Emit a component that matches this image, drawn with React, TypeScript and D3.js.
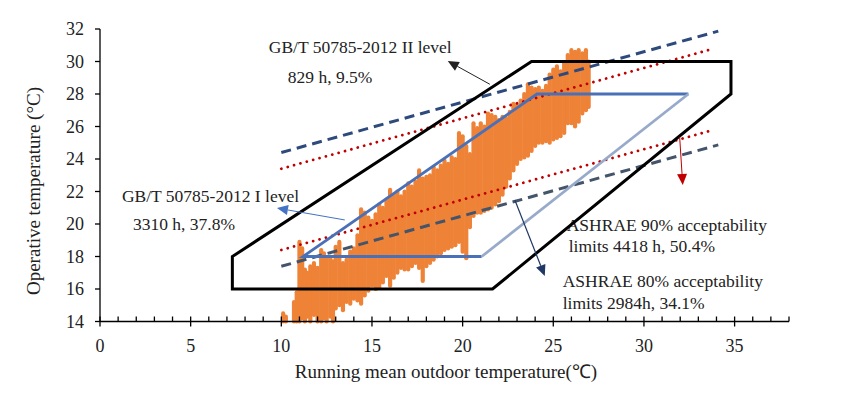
import React from "react";
import * as d3 from "d3";

// ---- data ----
// orange hourly points, summarised as vertical streaks: [running mean outdoor T, min operative T, max operative T]
const streakX = [10.1,10.25,10.7,10.85,11.0,11.15,11.3,11.45,11.6,11.8,12.0,12.2,12.35,12.5,12.7,12.85,13.0,13.2,13.4,13.6,13.8,14.0,14.2,14.4,14.6,14.8,15.0,15.2,15.4,15.6,15.8,16.0,16.2,16.4,16.6,16.8,17.0,17.2,17.4,17.6,17.8,18.0,18.2,18.4,18.6,18.8,19.0,19.2,19.4,19.6,19.8,20.0,20.2,20.4,20.6,20.8,21.0,21.2,21.4,21.6,21.8,22.0,22.2,22.4,22.6,22.8,23.0,23.2,23.4,23.6,23.8,24.0,24.2,24.4,24.6,24.8,25.0,25.2,25.4,25.6,25.8,26.0,26.2,26.4,26.6,26.8,26.95];
const streakLo = [14.0,14.0,14.0,14.0,14.0,14.2,14.0,14.3,14.0,14.4,14.0,14.0,14.2,14.0,14.3,14.0,14.8,15.0,14.7,15.2,15.1,15.4,15.3,15.1,15.6,15.9,16.2,16.0,16.1,16.4,16.8,16.2,16.7,17.0,17.3,17.2,17.2,17.4,17.6,17.3,16.5,17.4,17.6,17.8,18.0,18.2,18.4,18.5,18.6,18.7,18.9,18.3,17.9,19.8,20.5,20.7,20.7,20.8,20.9,21.0,21.2,21.4,21.8,22.3,22.8,23.3,23.7,24.0,24.1,24.2,24.5,24.8,25.0,25.0,25.1,25.0,25.2,25.3,25.4,25.6,26.2,26.2,26.0,26.3,26.8,27.0,27.2];
const streakHi = [14.5,14.3,15.2,15.8,18.9,18.5,17.2,17.0,17.4,17.6,17.3,18.4,18.2,17.9,18.0,17.7,18.6,18.9,17.6,17.8,18.3,18.5,19.3,20.9,20.7,20.4,20.2,20.6,21.2,21.0,21.5,22.1,21.8,22.0,21.7,22.0,22.5,22.3,22.6,23.3,22.8,22.9,23.0,23.5,23.3,23.6,23.9,23.7,24.1,24.0,25.6,25.4,24.8,24.3,26.2,25.9,26.2,26.0,26.8,26.7,26.6,26.4,26.6,26.5,26.9,27.4,27.3,27.6,28.0,28.6,28.4,28.3,28.4,28.2,28.5,29.2,29.5,29.7,29.4,29.9,30.4,30.7,30.6,30.7,30.5,30.7,30.0];

// GB/T 50785-2012 level II zone (black polygon)
const levelIIZone: [number, number][] = [[7.3,16],[7.3,18],[23.8,30],[34.8,30],[34.8,28],[21.65,16]];
// GB/T 50785-2012 level I zone (blue polygon)
const levelIZone: [number, number][] = [[11.2,18],[24.1,28],[32.45,28],[21.05,18]];

// ASHRAE adaptive limits: Tc = 0.31*Trm + 17.8 +- offset
const ashraeSlope = 0.31;
const ashraeIntercept = 17.8;
const ashrae80Offset = 3.5;
const ashrae90Offset = 2.5;
const ashrae80Range = [10, 34.1];
const ashrae90Range = [10, 33.8];

const xTicks = [0,5,10,15,20,25,30,35];
const xMinorTicks = d3.range(0, 39, 1);
const yTicks = [14,16,18,20,22,24,26,28,30,32];

const labels = [
  { text: "GB/T 50785-2012  II level", x: 9.31, y: 30.5 },
  { text: "829 h, 9.5%", x: 10.36, y: 28.68 },
  { text: "GB/T 50785-2012 I level", x: 1.21, y: 21.35 },
  { text: "3310 h, 37.8%", x: 1.82, y: 19.63 },
  { text: "ASHRAE 90% acceptability", x: 25.74, y: 19.57 },
  { text: "limits 4418 h, 50.4%", x: 25.85, y: 18.28 },
  { text: "ASHRAE 80% acceptability", x: 25.52, y: 16.12 },
  { text: "limits  2984h, 34.1%", x: 25.52, y: 14.77 },
];

const arrows = [
  { x1: 21.5, y1: 28.6, x2: 19.18, y2: 30.03, color: "#222222", w: 1 },
  { x1: 13.5, y1: 20.25, x2: 9.76, y2: 20.98, color: "#4472C4", w: 1 },
  { x1: 22.88, y1: 21.48, x2: 24.53, y2: 16.8, color: "#1F3864", w: 1.2 },
  { x1: 31.97, y1: 25.35, x2: 32.14, y2: 22.4, color: "#C00000", w: 1 },
];

const W = 842, H = 395;
const FONT = "'Liberation Serif', 'Times New Roman', serif";

export default function App() {
  const x = d3.scaleLinear().domain([0, 38]).range([100, 789]);
  const y = d3.scaleLinear().domain([14, 32]).range([321.5, 29]);
  const line = d3.line<[number, number]>().x(d => x(d[0])).y(d => y(d[1]));

  const limit = (off: number, r: number[]): [number, number][] =>
    r.map(t => [t, ashraeSlope * t + ashraeIntercept + off] as [number, number]);

  const arrowHead = (a: any) => {
    const x1 = x(a.x1), y1 = y(a.y1), x2 = x(a.x2), y2 = y(a.y2);
    const ang = Math.atan2(y2 - y1, x2 - x1);
    const L = 11, Wd = 5;
    const bx = x2 - L * Math.cos(ang), by = y2 - L * Math.sin(ang);
    const px = -Math.sin(ang) * Wd, py = Math.cos(ang) * Wd;
    return { line: `M${x1},${y1}L${bx},${by}`, head: `M${x2},${y2}L${bx + px},${by + py}L${bx - px},${by - py}Z` };
  };

  const I = levelIZone;
  return (
    <svg width={W} height={H} style={{ position: "absolute", left: 0, top: 0, background: "#fff" }} fontFamily={FONT}>
      {/* orange data */}
      <g stroke="#EE8236" strokeWidth={4.2} strokeLinecap="round">
        {streakX.map((t, i) => (
          <line key={i} x1={x(t)} x2={x(t)} y1={y(streakLo[i])} y2={y(streakHi[i])} />
        ))}
      </g>

      {/* labels */}
      <g fontSize={17.5} fill="#222">
        {labels.map((l, i) => (
          <text key={i} x={x(l.x)} y={y(l.y)}>{l.text}</text>
        ))}
      </g>

      {/* ASHRAE 90% (red dotted) */}
      {[ashrae90Offset, -ashrae90Offset].map((o, i) => (
        <path key={"r" + i} d={line(limit(o, ashrae90Range))!} fill="none" stroke="#C00000" strokeWidth={2.8} strokeDasharray="0.01 6.6" strokeLinecap="round" />
      ))}
      {/* ASHRAE 80% (dashed) */}
      <path d={line(limit(ashrae80Offset, ashrae80Range))!} fill="none" stroke="#2E4A7D" strokeWidth={3} strokeDasharray="10 6" />
      <path d={line(limit(-ashrae80Offset, ashrae80Range))!} fill="none" stroke="#44546A" strokeWidth={3} strokeDasharray="10 6" />

      {/* GB/T level I */}
      <path d={line([I[3], I[0], I[1], I[2]])!} fill="none" stroke="#4A70B8" strokeWidth={2.8} />
      <path d={line([I[2], I[3]])!} fill="none" stroke="#98AACA" strokeWidth={2.8} />

      {/* GB/T level II */}
      <path d={line(levelIIZone)! + "Z"} fill="none" stroke="#000" strokeWidth={3} strokeLinejoin="miter" />

      {/* arrows */}
      {arrows.map((a, i) => {
        const p = arrowHead(a);
        return (
          <g key={"a" + i}>
            <path d={p.line} stroke={a.color} strokeWidth={a.w} fill="none" />
            <path d={p.head} fill={a.color} />
          </g>
        );
      })}

      {/* axes */}
      <g stroke="#000" strokeWidth={1.3}>
        <line x1={x(0)} x2={x(0)} y1={y(14)} y2={y(32)} />
        <line x1={x(0)} x2={x(38)} y1={y(14)} y2={y(14)} />
        {yTicks.map(t => (
          <line key={"yt" + t} x1={x(0) - 5} x2={x(0)} y1={y(t)} y2={y(t)} />
        ))}
        {xMinorTicks.map(t => (
          <line key={"xm" + t} x1={x(t)} x2={x(t)} y1={y(14) - 5} y2={t % 5 === 0 ? y(14) + 5 : y(14)} />
        ))}
      </g>
      <g fontSize={18} fill="#222">
        {yTicks.map(t => (
          <text key={"yl" + t} x={x(0) - 16} y={y(t)} dy="0.35em" textAnchor="end">{t}</text>
        ))}
        {xTicks.map(t => (
          <text key={"xl" + t} x={x(t)} y={352} textAnchor="middle">{t}</text>
        ))}
      </g>
      <g fontSize={19} fill="#222">
        <text x={446} y={378} textAnchor="middle">Running mean outdoor temperature(℃)</text>
        <text transform={`translate(40,191) rotate(-90)`} textAnchor="middle">Operative temperature (°C)</text>
      </g>
    </svg>
  );
}
